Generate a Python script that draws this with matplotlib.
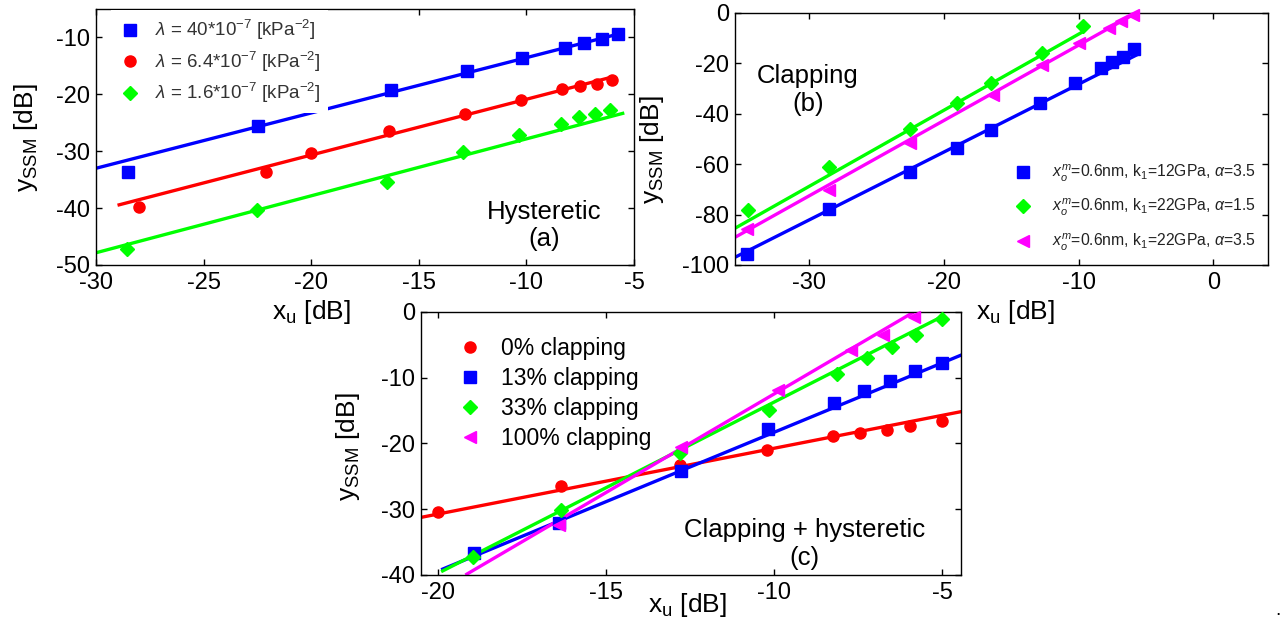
import matplotlib
matplotlib.use("Agg")
import matplotlib.pyplot as plt
import numpy as np

plt.rcParams['font.family'] = ['Liberation Sans', 'DejaVu Sans']
plt.rcParams['mathtext.fontset'] = 'custom'
plt.rcParams['mathtext.rm'] = 'Liberation Sans'
plt.rcParams['mathtext.it'] = 'Liberation Sans:italic'
plt.rcParams['mathtext.sf'] = 'Liberation Sans'
plt.rcParams['axes.unicode_minus'] = False

BLUE, RED, GREEN, MAG = '#0000FF', '#FF0000', '#00FF00', '#FF00FF'

# ---------------- Panel (a): Hysteretic ----------------
a_blue_x = [-28.5, -22.45, -16.3, -12.76, -10.19, -8.22, -7.33, -6.5, -5.73]
a_blue_y = [-33.7, -25.55, -19.2, -15.95, -13.6, -11.93, -11.06, -10.2, -9.43]
a_red_x = [-28.0, -22.1, -20.0, -16.37, -12.85, -10.27, -8.36, -7.5, -6.73, -6.0]
a_red_y = [-39.8, -33.6, -30.4, -26.4, -23.5, -20.95, -19.1, -18.5, -18.16, -17.46]
a_green_x = [-28.55, -22.52, -16.5, -12.93, -10.35, -8.4, -7.56, -6.83, -6.1]
a_green_y = [-47.26, -40.28, -35.33, -30.1, -27.2, -25.26, -24.0, -23.4, -22.8]
a_blue_fit_x, a_blue_fit_y = [-30.0, -5.45], [-33.0, -9.14]
a_red_fit_x, a_red_fit_y = [-29.0, -5.95], [-39.5, -16.9]
a_green_fit_x, a_green_fit_y = [-30.0, -5.45], [-47.85, -23.28]
a_labels = [r'$\lambda$ = 40*10$^{-7}$ [kPa$^{-2}$]',
            r'$\lambda$ = 6.4*10$^{-7}$ [kPa$^{-2}$]',
            r'$\lambda$ = 1.6*10$^{-7}$ [kPa$^{-2}$]']

# ---------------- Panel (b): Clapping ----------------
b_blue_x = [-34.62, -28.52, -22.54, -19.02, -16.51, -12.9, -10.3, -8.37, -7.49, -6.69, -5.86]
b_blue_y = [-95.8, -77.95, -63.25, -53.67, -46.46, -35.7, -27.8, -21.9, -19.3, -17.3, -14.4]
b_green_x = [-34.5, -28.52, -22.54, -19.02, -16.51, -12.72, -9.7]
b_green_y = [-78.0, -61.3, -46.2, -35.7, -27.8, -16.0, -5.25]
b_mag_x = [-34.62, -28.52, -22.54, -16.36, -12.72, -10.0, -7.78, -6.89, -6.0]
b_mag_y = [-85.6, -70.1, -51.4, -32.4, -20.6, -12.07, -5.77, -3.15, -0.92]
b_blue_fit_x, b_blue_fit_y = [-35.56, -5.56], [-97.1, -16.3]
b_green_fit_x, b_green_fit_y = [-35.56, -9.7], [-85.6, -7.5]
b_mag_fit_x, b_mag_fit_y = [-35.56, -5.56], [-89.2, 0.5]
b_labels = [r'$x_o^m$=0.6nm, k$_1$=12GPa, $\alpha$=3.5',
            r'$x_o^m$=0.6nm, k$_1$=22GPa, $\alpha$=1.5',
            r'$x_o^m$=0.6nm, k$_1$=22GPa, $\alpha$=3.5']

# ---------------- Panel (c): Clapping + hysteretic ----------------
c_red_x = [-20.0, -16.35, -12.81, -10.23, -8.25, -7.45, -6.64, -5.97, -5.0]
c_red_y = [-30.46, -26.45, -23.25, -21.0, -18.93, -18.4, -18.0, -17.3, -16.65]
c_blue_x = [-18.93, -16.39, -12.78, -10.19, -8.21, -7.33, -6.55, -5.82, -5.0]
c_blue_y = [-36.7, -32.13, -24.26, -17.77, -13.86, -12.08, -10.46, -8.93, -7.77]
c_green_x = [-18.96, -16.35, -12.81, -10.15, -8.15, -7.24, -6.51, -5.79, -5.0]
c_green_y = [-37.2, -30.1, -21.47, -14.87, -9.39, -7.0, -5.33, -3.55, -1.02]
c_mag_x = [-16.39, -12.76, -9.9, -7.73, -6.76, -5.85]
c_mag_y = [-32.4, -20.6, -11.83, -5.74, -3.45, -0.81]
c_red_fit_x, c_red_fit_y = [-20.53, -4.42], [-31.27, -15.13]
c_blue_fit_x, c_blue_fit_y = [-19.9, -4.42], [-39.2, -6.5]
c_green_fit_x, c_green_fit_y = [-19.9, -4.94], [-39.5, -0.5]
c_mag_fit_x, c_mag_fit_y = [-19.18, -5.85], [-40.0, 0.0]
c_labels = ['0% clapping', '13% clapping', '33% clapping', '100% clapping']

fig = plt.figure(figsize=(12.87, 6.26), dpi=100)
fig.patch.set_facecolor('white')

TICK_FS = 17
LABEL_FS = 19
NOTE_FS = 18.5
LW = 2.4
MS = 8


def style(ax):
    ax.tick_params(direction='in', top=True, right=True, labelsize=TICK_FS,
                   length=4, width=1, pad=4)
    ax.tick_params(axis='x', pad=5)
    for s in ax.spines.values():
        s.set_linewidth(1.0)


def series(ax, x, y, fx, fy, color, marker, label, ms=MS):
    ax.plot(fx, fy, '-', color=color, lw=LW, solid_capstyle='butt')
    h, = ax.plot(x, y, linestyle='none', marker=marker, color=color,
                 markersize=ms, label=label, clip_on=False, zorder=3)
    return h


def labels(ax, xc, yc):
    ax.set_xlabel(r'$\mathregular{x_u}$ [dB]', fontsize=LABEL_FS)
    ax.set_ylabel(r'$\mathregular{y_{SSM}}$ [dB]', fontsize=LABEL_FS)
    ax.xaxis.set_label_coords(*xc)
    ax.yaxis.set_label_coords(*yc)
    ax.yaxis.label.set_verticalalignment('center')


# ---- (a)
axa = fig.add_axes([0.0746, 0.5767, 0.418, 0.409])
style(axa)
ha = [series(axa, a_blue_x, a_blue_y, a_blue_fit_x, a_blue_fit_y, BLUE, 's', a_labels[0]),
      series(axa, a_red_x, a_red_y, a_red_fit_x, a_red_fit_y, RED, 'o', a_labels[1]),
      series(axa, a_green_x, a_green_y, a_green_fit_x, a_green_fit_y, GREEN, 'D', a_labels[2], ms=7)]
axa.set_xlim(-30, -5)
axa.set_ylim(-50, -5)
axa.set_xticks([-30, -25, -20, -15, -10, -5])
axa.set_yticks([-50, -40, -30, -20, -10])
labels(axa, (0.40, -0.13), (-0.13, 0.496))
leg = axa.legend(handles=ha, loc='upper left', bbox_to_anchor=(0.028, 0.994),
                 fontsize=13.5, frameon=True, fancybox=False, labelspacing=0.4,
                 handlelength=1.2, handletextpad=0.73, borderpad=0.4,
                 borderaxespad=0)
leg.get_frame().set_facecolor('white')
leg.get_frame().set_edgecolor('none')
leg.get_frame().set_alpha(1)
for t in leg.get_texts():
    t.set_color('#333333')
axa.text(0.833, 0.154, 'Hysteretic\n(a)', transform=axa.transAxes,
         ha='center', va='center', fontsize=NOTE_FS, multialignment='center',
         linespacing=1.2)

# ---- (b)
axb = fig.add_axes([0.5711, 0.5767, 0.4141, 0.4026])
style(axb)
hb = [series(axb, b_blue_x, b_blue_y, b_blue_fit_x, b_blue_fit_y, BLUE, 's', b_labels[0]),
      series(axb, b_green_x, b_green_y, b_green_fit_x, b_green_fit_y, GREEN, 'D', b_labels[1], ms=7),
      series(axb, b_mag_x, b_mag_y, b_mag_fit_x, b_mag_fit_y, MAG, '<', b_labels[2], ms=9)]
axb.set_xlim(-35.5, 4.05)
axb.set_ylim(-100, 0)
axb.set_xticks([-30, -20, -10, 0])
axb.set_yticks([-100, -80, -60, -40, -20, 0])
labels(axb, (0.527, -0.13), (-0.156, 0.456))
legb = axb.legend(handles=hb, loc='upper left', bbox_to_anchor=(0.51, 0.43),
                  fontsize=11.3, frameon=False, labelspacing=0.85,
                  handlelength=1.2, handletextpad=1.25, borderpad=0.4,
                  borderaxespad=0)
for t in legb.get_texts():
    t.set_color('#222222')
axb.text(0.137, 0.694, 'Clapping\n(b)', transform=axb.transAxes,
         ha='center', va='center', fontsize=NOTE_FS, multialignment='center',
         linespacing=1.2)

# ---- (c)
axc = fig.add_axes([0.3271, 0.0815, 0.4196, 0.4201])
style(axc)
hc = [series(axc, c_red_x, c_red_y, c_red_fit_x, c_red_fit_y, RED, 'o', c_labels[0]),
      series(axc, c_blue_x, c_blue_y, c_blue_fit_x, c_blue_fit_y, BLUE, 's', c_labels[1]),
      series(axc, c_green_x, c_green_y, c_green_fit_x, c_green_fit_y, GREEN, 'D', c_labels[2], ms=7),
      series(axc, c_mag_x, c_mag_y, c_mag_fit_x, c_mag_fit_y, MAG, '<', c_labels[3], ms=9)]
axc.set_xlim(-20.5, -4.45)
axc.set_ylim(-40, 0)
axc.set_xticks([-20, -15, -10, -5])
axc.set_yticks([-40, -30, -20, -10, 0])
labels(axc, (0.494, -0.06), (-0.135, 0.487))
legc = axc.legend(handles=hc, loc='upper left', bbox_to_anchor=(0.049, 0.94),
                  fontsize=16.5, frameon=False, labelspacing=0.3,
                  handlelength=1.2, handletextpad=0.73, borderpad=0.4,
                  borderaxespad=0)
axc.text(0.711, 0.118, 'Clapping + hysteretic\n(c)', transform=axc.transAxes,
         ha='center', va='center', fontsize=NOTE_FS, multialignment='center',
         linespacing=1.2)

fig.text(0.993, 0.025, '.', fontsize=14, ha='center', va='center')

fig.savefig('out.png', dpi=100, facecolor='white')
